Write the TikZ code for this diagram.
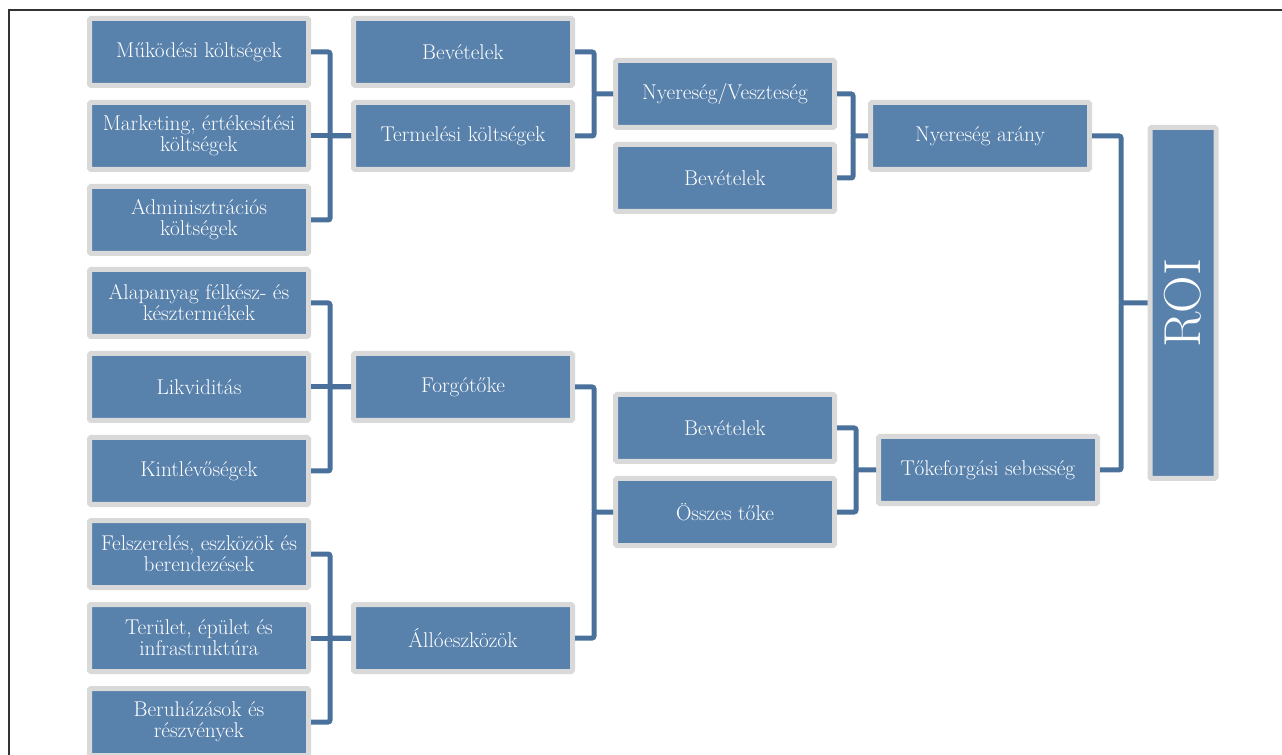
\documentclass[tikz,border=0pt]{standalone}
\usepackage{fontspec}
\usepackage{graphicx}
\definecolor{boxblue}{RGB}{88,129,172}
\definecolor{linkblue}{RGB}{74,113,155}
\definecolor{rimgray}{RGB}{217,217,217}
\begin{document}
\begin{tikzpicture}[x=0.75pt,y=-0.75pt,
    box/.style={draw=rimgray,fill=boxblue,line width=3.75pt,rounded corners=1pt,
      minimum width=164.25pt,minimum height=50.25pt,inner sep=2pt,align=center,
      text=white,font=\fontsize{16}{15.75}\selectfont},
    link/.style={draw=linkblue,line width=3.75pt,rounded corners=1.5pt}]
      \useasboundingbox (0,0) rectangle (1282,755);
      \draw[line width=0.9pt,black!80] (9,755) -- (9,10) -- (1282,10);
      \draw
        (199,52) node[box] (mukodesi){Működési költségek}
        (199,136) node[box] (marketing){Marketing, értékesítési\\költségek}
        (199,220) node[box] (admin){Adminisztrációs\\költségek}
        (199,303) node[box] (alapanyag){Alapanyag félkész- és\\késztermékek}
        (199,387) node[box] (likvid){Likviditás}
        (199,471) node[box] (kintlevo){Kintlévőségek}
        (199,554) node[box] (felszereles){Felszerelés, eszközök és\\berendezések}
        (199,638) node[box] (terulet){Terület, épület és\\infrastruktúra}
        (199,722) node[box] (beruhazas){Beruházások és\\részvények}
        (463,52) node[box] (bevetel1){Bevételek}
        (463,136) node[box] (termelesi){Termelési költségek}
        (463,387) node[box] (forgotoke){Forgótőke}
        (463,638) node[box] (alloeszk){Állóeszközök}
        (725,94) node[box] (nyvesz){Nyereség/Veszteség}
        (725,178) node[box] (bevetel2){Bevételek}
        (725,428) node[box] (bevetel3){Bevételek}
        (725,512) node[box] (osszes){Összes tőke}
        (980,136) node[box] (nyarany){Nyereség arány}
        (988,470) node[box] (tokefs){Tőkeforgási sebesség}
        (1183,303) node[box,minimum width=49.5pt,minimum height=263.25pt,
          font=\fontsize{39}{39}\selectfont] (roi){\rotatebox{90}{ROI}};
      \coordinate (t1) at (330,136);
      \coordinate (t2) at (594,94);
      \coordinate (t3) at (853,136);
      \coordinate (t4) at (330,387);
      \coordinate (t5) at (330,638);
      \coordinate (t6) at (594,512);
      \coordinate (t7) at (856,470);
      \coordinate (t8) at (1121,303);
      \begin{scope}[link]
        \draw (mukodesi.east) -| (t1) -- (termelesi.west);
        \draw (admin.east) -| (t1);
        \draw (marketing.east) -- (termelesi.west);
        \draw (alapanyag.east) -| (t4) -- (forgotoke.west);
        \draw (kintlevo.east) -| (t4);
        \draw (likvid.east) -- (forgotoke.west);
        \draw (felszereles.east) -| (t5) -- (alloeszk.west);
        \draw (beruhazas.east) -| (t5);
        \draw (terulet.east) -- (alloeszk.west);
        \draw (bevetel1.east) -| (t2) -- (nyvesz.west);
        \draw (termelesi.east) -| (t2);
        \draw (forgotoke.east) -| (t6) -- (osszes.west);
        \draw (alloeszk.east) -| (t6);
        \draw (nyvesz.east) -| (t3) -- (nyarany.west);
        \draw (bevetel2.east) -| (t3);
        \draw (bevetel3.east) -| (t7) -- (tokefs.west);
        \draw (osszes.east) -| (t7);
        \draw (nyarany.east) -| (t8) -- (roi.west);
        \draw (tokefs.east) -| (t8);
      \end{scope}
    \end{tikzpicture}
\end{document}
